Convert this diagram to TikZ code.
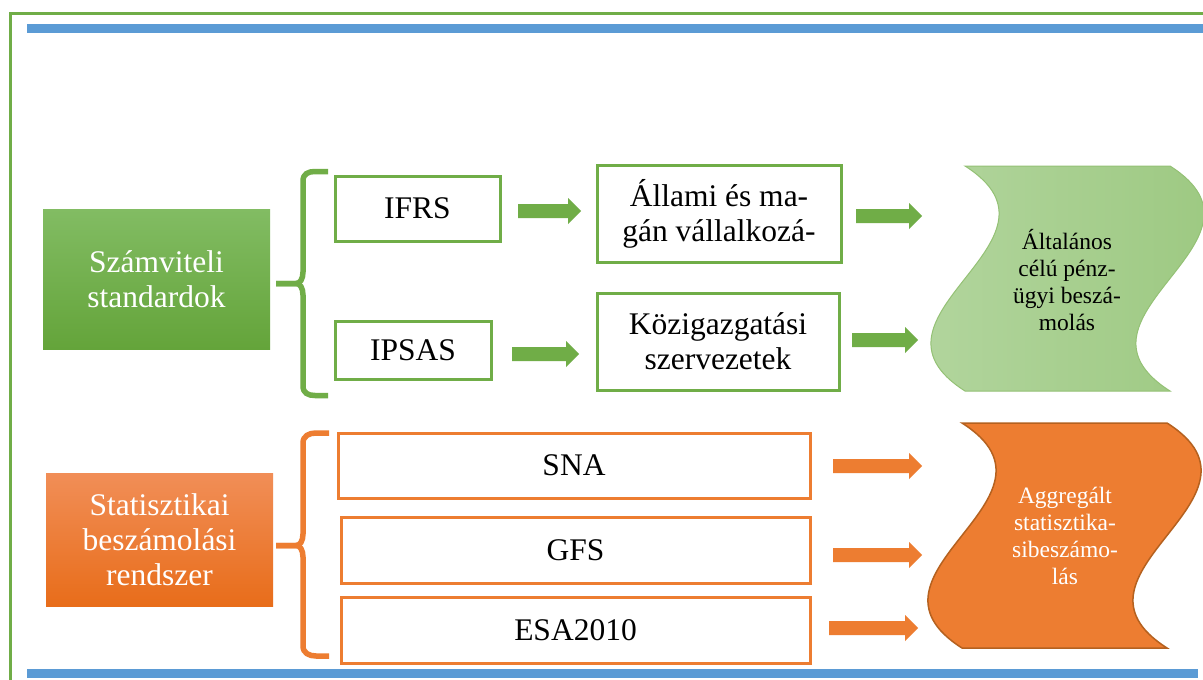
\documentclass[tikz,border=0pt]{standalone}
\usepackage{fontspec}
\setmainfont{Liberation Serif}
\definecolor{gr}{HTML}{70AD47}
\definecolor{og}{HTML}{ED7D31}
\definecolor{bl}{HTML}{5B9BD5}
\definecolor{ogdark}{HTML}{B5611F}
\definecolor{grtop}{HTML}{82BC63}
\definecolor{grbot}{HTML}{64A43A}
\definecolor{ogtop}{HTML}{F18E57}
\definecolor{ogbot}{HTML}{E86D1A}
\definecolor{wvleft}{HTML}{B7D8A4}
\definecolor{wvright}{HTML}{98C67B}
\newcommand\mainfs{\fontsize{31.5}{35}\selectfont}
\newcommand\wavefs{\fontsize{23.5}{27}\selectfont}
\newcommand\blockarrow[4]{\fill[#1] ({#2},{#4-7}) -- ({#3-13},{#4-7}) -- ({#3-13},{#4-13}) -- ({#3},{#4}) -- ({#3-13},{#4+13}) -- ({#3-13},{#4+7}) -- ({#2},{#4+7}) -- cycle;}
\newcommand\wavepath{(0,0) .. controls (118,75) and (-118,150) .. (0,225) -- (205,225) .. controls (87,150) and (323,75) .. (205,0) -- cycle}
\begin{document}
\begin{tikzpicture}[x=1pt,y=-1pt,
  gbox/.style={draw=gr, line width=3pt, inner sep=0pt, align=center, font=\mainfs, text=black},
  obox/.style={draw=og, line width=3pt, inner sep=0pt, align=center, font=\mainfs, text=black},
  headbox/.style={inner sep=0pt, align=center, font=\mainfs, text=white},
  bracegr/.style={draw=gr, line width=5.5pt},
  braceog/.style={draw=og, line width=5.5pt},
  wavetext/.style={align=center, font=\wavefs, inner sep=0pt}]
\useasboundingbox (0,0) rectangle (1203,680);
\fill[white] (0,0) rectangle (1203,680);
% frame
\draw[gr, line width=3pt] (10.5,680) -- (10.5,13.5) -- (1203,13.5);
\fill[bl] (27,24) rectangle (1203,33);
\fill[bl] (27,669) rectangle (1198,678);
% heading boxes
\node[headbox, minimum width=227pt, minimum height=140pt, top color=grtop, bottom color=grbot] (sz) at (156.5,279) {Számviteli\\standardok};
\node[headbox, minimum width=227pt, minimum height=133pt, top color=ogtop, bottom color=ogbot] (st) at (159.5,539.5) {Statisztikai\\beszámolási\\rendszer};
% braces
\draw[bracegr] (328,171.5) -- (315,171.5) .. controls (308,171.5) and (303,174) .. (303,181) -- (303,272) .. controls (303,279) and (300,283.5) .. (296,283.5) -- (276,283.5);
\draw[bracegr] (276,283.5) -- (296,283.5) .. controls (300,283.5) and (303,288) .. (303,295) -- (303,386) .. controls (303,393) and (308,395.5) .. (315,395.5) -- (328,395.5);
\draw[braceog] (329,433) -- (316,433) .. controls (309,433) and (303,436) .. (303,443) -- (303,534) .. controls (303,541) and (300,545.5) .. (296,545.5) -- (276,545.5);
\draw[braceog] (276,545.5) -- (296,545.5) .. controls (300,545.5) and (303,550) .. (303,557) -- (303,646) .. controls (303,653) and (309,656) .. (316,656) -- (329,656);
% green boxes
\node[gbox, minimum width=165pt, minimum height=65pt] (ifrs) at (417.5,208.5) {IFRS};
\node[gbox, minimum width=156pt, minimum height=58pt] (ipsas) at (413,350) {IPSAS};
\node[gbox, minimum width=244pt, minimum height=97pt] (allami) at (719,213.5) {Állami és ma-\\gán vállalkozá-};
\node[gbox, minimum width=242pt, minimum height=97pt] (kozig) at (718,341.5) {Közigazgatási\\szervezetek};
% orange boxes
\node[obox, minimum width=472pt, minimum height=65pt] (sna) at (574,465.5) {SNA};
\node[obox, minimum width=469pt, minimum height=66pt] (gfs) at (575.5,550) {GFS};
\node[obox, minimum width=469pt, minimum height=66pt] (esa) at (575.5,630) {ESA2010};
% arrows
\blockarrow{gr}{518}{581}{211}
\blockarrow{gr}{512}{579}{354}
\blockarrow{gr}{856}{922}{216}
\blockarrow{gr}{852}{918}{340}
\blockarrow{og}{833}{922}{466}
\blockarrow{og}{833}{922}{555}
\blockarrow{og}{829}{918}{628}
% waves
\begin{scope}[shift={(965,166)}]
\path[draw=gr!75!white, line width=1pt, left color=wvleft, right color=wvright] \wavepath;
\end{scope}
\begin{scope}[shift={(962,423)}]
\path[draw=ogdark, line width=1.5pt, fill=og] \wavepath;
\end{scope}
\node[wavetext, text=black] (gw) at (1067,280) {Általános\\célú pénz-\\ügyi beszá-\\molás};
\node[wavetext, text=white] (ow) at (1065,536) {Aggregált\\statisztika-\\sibeszámo-\\lás};
\end{tikzpicture}
\end{document}
